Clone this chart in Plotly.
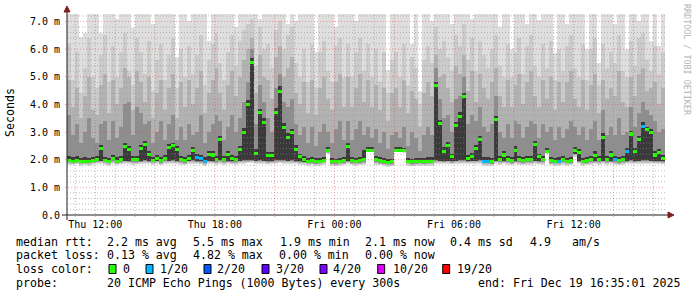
import plotly.graph_objects as go

# ---------------- data ----------------
start_hour = 10 + 35 / 60 + 1 / 3600      # Thu 10:35:01 (hours since Thu 00:00)
step_hours = 0.2                           # 12-minute columns
span_hours = 30.0

median = [1.97, 1.95, 1.98, 1.93, 1.95, 1.94, 1.96, 2.00, 2.40, 1.97,
          1.95, 2.05, 1.95, 2.00, 2.48, 2.36, 2.02, 2.00, 2.40, 2.55,
          2.20, 1.98, 2.05, 1.97, 2.05, 2.45, 2.50, 2.38, 2.00, 1.97,
          2.05, 2.34, 2.07, 2.05, 1.95, 2.20, 2.17, 2.00, 2.72, 2.00,
          2.20, 2.05, 2.00, 2.36, 2.98, 3.99, 5.50, 2.24, 3.70, 3.35,
          2.15, 2.15, 3.71, 4.48, 3.18, 2.81, 2.97, 2.38, 2.10, 2.00,
          1.95, 1.97, 1.93, 1.95, 1.98, 2.33, 1.93, 1.92, 1.95, 1.97,
          2.48, 1.97, 1.95, 1.96, 2.00, 2.35, 2.35, 2.00, 1.98, 1.93,
          1.90, 1.92, 2.35, 2.35, 2.33, 1.95, 1.92, 1.93, 1.94, 1.93,
          1.95, 1.95, 4.67, 3.30, 2.30, 2.50, 2.10, 3.23, 3.57, 4.29,
          2.05, 2.10, 2.40, 2.72, 1.95, 1.95, 1.92, 3.45, 2.00, 2.17,
          2.00, 1.97, 2.35, 2.00, 1.97, 2.00, 2.00, 2.54, 2.10, 2.00,
          2.30, 1.97, 1.95, 1.95, 2.00, 1.95, 1.97, 2.33, 2.25, 1.95,
          1.97, 2.00, 2.15, 2.00, 2.81, 2.00, 2.17, 2.00, 1.97, 2.00,
          2.30, 2.93, 2.30, 2.72, 3.20, 3.08, 2.97, 2.17, 2.25, 2.05]

loss = [0] * 150
for _i in (32, 33, 34, 104, 105, 123, 137, 140, 144):
    loss[_i] = 1

smoke_lo = [1.82, 1.80, 1.83, 1.78, 1.80, 1.79, 1.81, 1.84, 1.85, 1.81,
            1.79, 1.86, 1.80, 1.83, 1.85, 1.84, 1.82, 1.83, 1.84, 1.86,
            1.84, 1.81, 1.85, 1.80, 1.86, 1.85, 1.86, 1.84, 1.82, 1.80,
            1.85, 1.86, 1.84, 1.83, 1.79, 1.85, 1.84, 1.82, 1.86, 1.82,
            1.84, 1.83, 1.82, 1.85, 1.86, 1.87, 1.88, 1.85, 1.86, 1.85,
            1.83, 1.84, 1.86, 1.87, 1.86, 1.85, 1.86, 1.84, 1.82, 1.81,
            1.79, 1.80, 1.77, 1.79, 1.81, 2.20, 1.77, 1.76, 1.79, 1.80,
            1.84, 1.80, 1.79, 1.80, 1.82, 2.28, 2.28, 1.82, 1.80, 1.77,
            1.75, 1.76, 2.28, 2.28, 2.26, 1.78, 1.76, 1.77, 1.78, 1.77,
            1.79, 1.79, 1.86, 1.85, 1.84, 1.85, 1.83, 1.85, 1.86, 1.86,
            1.84, 1.85, 1.85, 1.86, 1.79, 1.79, 1.77, 1.85, 1.82, 1.84,
            1.82, 1.80, 1.84, 1.82, 1.80, 1.82, 1.82, 1.85, 1.83, 1.82,
            2.22, 1.80, 1.79, 1.79, 1.82, 1.79, 1.80, 2.10, 1.84, 1.79,
            1.80, 1.82, 1.84, 1.82, 1.85, 1.82, 1.84, 1.82, 1.80, 1.82,
            1.84, 1.86, 1.84, 1.85, 1.86, 1.86, 1.85, 1.84, 1.84, 1.83]

# upper edges of the smoke bands, outermost (lightest) first
smoke_s1 = [7.5, 7.5, 7.5, 6.45, 6.6, 7.5, 7.5, 7.5, 6.6, 7.5,
            7.5, 7.5, 7.1, 7.5, 7.5, 7.5, 6.75, 7.5, 7.5, 7.5,
            7.5, 6.9, 7.5, 7.5, 7.5, 7.5, 7.5, 5.7, 7.5, 7.5,
            7.0, 7.5, 7.5, 7.5, 7.5, 6.3, 7.5, 7.5, 7.5, 7.5,
            7.5, 7.5, 6.8, 7.5, 7.5, 7.5, 7.5, 7.5, 7.1, 7.5,
            7.5, 7.5, 7.5, 7.5, 7.5, 6.9, 7.5, 7.0, 7.5, 7.5,
            7.5, 7.5, 5.9, 7.5, 7.5, 7.5, 7.5, 6.8, 7.5, 7.5,
            7.5, 7.5, 7.0, 7.5, 7.5, 7.5, 7.5, 7.5, 7.5, 7.5,
            5.25, 7.5, 7.5, 7.5, 7.5, 7.5, 6.2, 7.5, 4.5, 7.5,
            7.5, 7.0, 7.5, 7.5, 7.5, 7.5, 6.9, 7.5, 7.5, 7.5,
            7.5, 7.1, 7.5, 7.5, 7.5, 7.5, 7.5, 7.5, 6.8, 7.5,
            7.5, 6.0, 7.5, 7.5, 7.5, 6.9, 7.5, 7.5, 7.05, 7.5,
            7.5, 7.5, 5.85, 7.5, 7.5, 6.9, 7.5, 7.5, 7.5, 7.5,
            6.0, 7.5, 7.5, 5.5, 7.5, 7.5, 7.5, 6.9, 7.5, 7.5,
            6.0, 7.5, 7.5, 7.0, 7.5, 7.5, 6.3, 7.5, 6.1, 7.5]

smoke_s2 = [6.2, 4.9, 5.9, 4.4, 5.3, 6.4, 5.0, 4.6, 5.8, 6.5,
            4.8, 6.1, 5.0, 5.9, 6.6, 5.2, 4.7, 6.4, 5.9, 5.1,
            6.3, 4.5, 5.6, 6.2, 4.9, 5.8, 6.4, 4.6, 6.0, 5.0,
            6.1, 5.1, 5.8, 6.5, 4.7, 5.6, 6.2, 6.6, 5.5, 4.9,
            5.9, 6.5, 5.4, 6.3, 6.7, 6.9, 7.1, 5.4, 6.8, 6.0,
            6.2, 5.3, 6.7, 7.0, 6.0, 6.5, 6.8, 5.5, 5.0, 6.0,
            4.8, 6.2, 4.6, 5.9, 6.3, 5.2, 4.8, 6.1, 6.4, 5.0,
            6.2, 5.0, 5.9, 6.4, 5.2, 6.2, 5.0, 6.0, 4.8, 5.9,
            4.4, 5.6, 5.9, 5.0, 6.2, 4.7, 5.7, 5.3, 4.0, 5.6,
            6.1, 5.5, 6.8, 6.0, 6.3, 5.7, 5.2, 6.5, 6.1, 6.9,
            5.6, 6.4, 5.2, 6.3, 5.8, 5.3, 6.0, 6.5, 5.4, 5.0,
            6.2, 5.0, 5.9, 6.4, 5.1, 6.1, 6.5, 5.4, 5.0, 6.2,
            5.3, 6.3, 4.9, 6.0, 5.2, 6.1, 6.5, 5.3, 5.0, 6.2,
            4.9, 6.0, 6.4, 4.7, 6.2, 5.3, 5.9, 5.5, 6.5, 5.2,
            5.0, 6.3, 5.4, 6.4, 6.6, 5.6, 5.2, 6.1, 5.1, 5.9]

smoke_s3 = [4.9, 3.9, 4.6, 3.5, 4.3, 5.0, 3.8, 3.6, 4.7, 5.1,
            3.7, 4.9, 4.0, 4.6, 5.3, 5.0, 3.8, 5.2, 4.8, 4.1,
            5.0, 3.5, 4.4, 4.9, 3.8, 4.6, 5.1, 3.5, 4.8, 3.9,
            4.9, 4.0, 4.6, 5.2, 3.7, 4.4, 4.9, 5.3, 4.4, 3.8,
            4.7, 5.2, 4.3, 5.0, 5.6, 6.0, 6.4, 4.4, 5.8, 5.0,
            4.9, 4.2, 5.7, 6.1, 5.0, 5.3, 5.7, 4.4, 4.0, 4.8,
            3.7, 4.9, 3.6, 4.6, 5.0, 4.2, 3.8, 4.8, 5.1, 3.9,
            5.0, 3.9, 4.6, 5.1, 4.1, 4.9, 3.9, 4.7, 3.8, 4.6,
            3.4, 4.4, 4.6, 3.9, 4.9, 3.7, 4.5, 4.2, 3.2, 4.4,
            4.8, 4.3, 5.8, 5.0, 5.1, 4.6, 4.1, 5.4, 5.1, 5.8,
            4.5, 5.2, 4.1, 5.1, 4.6, 4.2, 4.8, 5.3, 4.3, 3.9,
            4.9, 3.9, 4.7, 5.1, 4.0, 4.8, 5.2, 4.3, 3.9, 4.9,
            4.2, 5.0, 3.8, 4.8, 4.1, 4.8, 5.2, 4.2, 3.9, 4.9,
            3.8, 4.7, 5.1, 3.7, 4.9, 4.2, 4.6, 4.3, 5.2, 4.1,
            3.9, 5.0, 4.3, 5.1, 5.3, 4.5, 4.6, 4.8, 4.0, 4.6]

smoke_s4 = [3.6, 2.9, 3.3, 2.6, 3.0, 3.5, 2.8, 2.6, 3.3, 3.4,
            2.7, 3.4, 2.8, 3.2, 4.0, 4.1, 2.9, 3.9, 3.7, 3.3,
            3.4, 2.6, 3.0, 3.4, 2.7, 3.3, 3.6, 2.7, 3.2, 2.7,
            3.3, 2.9, 3.0, 3.6, 2.6, 3.0, 3.3, 3.6, 3.4, 2.7,
            3.2, 3.6, 3.0, 3.5, 4.1, 4.8, 6.0, 3.3, 4.7, 4.1,
            3.5, 3.0, 4.6, 5.1, 4.1, 3.9, 4.2, 3.3, 2.9, 3.2,
            2.6, 3.2, 2.5, 3.0, 3.3, 3.0, 2.6, 3.1, 3.4, 2.7,
            3.4, 2.7, 3.1, 3.4, 2.9, 3.2, 2.8, 3.1, 2.6, 3.0,
            2.4, 2.9, 3.0, 2.8, 3.2, 2.5, 3.0, 2.8, 2.3, 2.9,
            3.2, 2.9, 5.3, 4.2, 3.5, 3.6, 3.0, 4.2, 4.3, 5.0,
            3.3, 3.6, 3.4, 3.9, 3.2, 3.0, 3.3, 4.3, 3.0, 2.8,
            3.3, 2.8, 3.4, 3.3, 2.8, 3.2, 3.4, 3.3, 2.8, 3.3,
            3.0, 3.2, 2.7, 3.2, 2.8, 3.1, 3.4, 3.2, 2.9, 3.2,
            2.7, 3.1, 3.4, 2.7, 3.8, 2.9, 3.2, 2.9, 3.5, 2.9,
            3.0, 3.9, 3.2, 3.7, 4.1, 3.8, 3.6, 3.4, 3.0, 3.1]

smoke_s5 = [2.12, 2.08, 2.12, 2.05, 2.08, 2.06, 2.10, 2.14, 2.52, 2.10,
            2.07, 2.18, 2.08, 2.12, 2.62, 2.50, 2.15, 2.12, 2.55, 2.68,
            2.33, 2.10, 2.18, 2.09, 2.18, 2.58, 2.62, 2.50, 2.12, 2.09,
            2.17, 2.47, 2.20, 2.18, 2.08, 2.33, 2.30, 2.12, 2.85, 2.12,
            2.33, 2.18, 2.12, 2.50, 3.15, 4.15, 5.68, 2.38, 3.85, 3.50,
            2.28, 2.28, 3.86, 4.65, 3.33, 2.95, 3.10, 2.52, 2.22, 2.12,
            2.07, 2.10, 2.05, 2.07, 2.10, 2.45, 2.05, 2.04, 2.07, 2.10,
            2.62, 2.10, 2.07, 2.08, 2.35, 2.45, 2.45, 2.12, 2.10, 2.05,
            2.02, 2.04, 2.45, 2.45, 2.44, 2.07, 2.04, 2.05, 2.06, 2.05,
            2.08, 2.10, 4.82, 3.45, 2.45, 2.65, 2.22, 3.38, 3.72, 4.42,
            2.18, 2.25, 2.55, 2.85, 2.08, 2.08, 2.05, 3.58, 2.12, 2.30,
            2.12, 2.10, 2.48, 2.12, 2.09, 2.12, 2.13, 2.68, 2.22, 2.12,
            2.42, 2.09, 2.07, 2.08, 2.12, 2.07, 2.10, 2.45, 2.38, 2.07,
            2.09, 2.12, 2.30, 2.12, 2.95, 2.12, 2.30, 2.12, 2.09, 2.12,
            2.42, 3.05, 2.42, 2.85, 3.35, 3.20, 3.10, 2.30, 2.38, 2.17]

y_tick_vals = [0, 1, 2, 3, 4, 5, 6, 7]
y_tick_text = ["0.0", "1.0 m", "2.0 m", "3.0 m", "4.0 m", "5.0 m", "6.0 m", "7.0 m"]
x_tick_vals = [12, 18, 24, 30, 36]
x_tick_text = ["Thu 12:00", "Thu 18:00", "Fri 00:00", "Fri 06:00", "Fri 12:00"]

loss_levels = [0, 1, 2, 3, 4, 10, 19]
loss_labels = ["0", "1/20", "2/20", "3/20", "4/20", "10/20", "19/20"]
loss_colors = ["#26ff00", "#00b8ff", "#0059ff", "#5e00ff", "#7e00ff", "#dd00ff", "#ff0000"]

# ---------------- layout geometry ----------------
W, H = 697, 297
PL, PR, PT, PB = 67, 665, 14, 215
Y_MAX = 7.27
MONO = "DejaVu Sans Mono"

def px(xp):
    return (xp - PL) / (PR - PL)

def py(yp):
    return (PB - yp) / (PB - PT)

n = len(median)
x = [start_hour + (i + 0.5) * step_hours for i in range(n)]

fig = go.Figure()

band_tops = [smoke_s1, smoke_s2, smoke_s3, smoke_s4, smoke_s5]
band_colors = ["#dedede", "#cbcbcb", "#b2b2b2", "#8e8e8e", "#3a3a3a"]
band_off = [0.0, 0.03, 0.06, 0.09, 0.12]
for tops, col, off in zip(band_tops, band_colors, band_off):
    base = [min(lo + off, m - 0.03) for lo, m in zip(smoke_lo, median)]
    fig.add_trace(go.Bar(x=x, y=[t - b for t, b in zip(tops, base)], base=base,
                         width=step_hours, marker=dict(color=col, line=dict(width=0)),
                         hoverinfo="skip", showlegend=False))

def loss_color(l):
    c = loss_colors[0]
    for lv, cc in zip(loss_levels, loss_colors):
        if l >= lv:
            c = cc
    return c

half = 0.055
fig.add_trace(go.Bar(x=x, y=[2 * half] * n, base=[m - half for m in median],
                     width=step_hours,
                     marker=dict(color=[loss_color(l) for l in loss], line=dict(width=0)),
                     hoverinfo="skip", showlegend=False))

shapes = []
# grid on top of the smoke (rrdtool style)
GRID = "rgba(143,143,143,0.6)"
MGRID = "rgba(222,79,79,0.55)"
h = int(start_hour) + 1
while h < start_hour + span_hours:
    major = (h % 3 == 0)
    shapes.append(dict(type="line", xref="x", yref="paper", x0=h, x1=h,
                       y0=py(PB + 2), y1=1, layer="above",
                       line=dict(color=MGRID if major else GRID, width=1, dash="1px,2px")))
    h += 1
for k in range(1, 37):
    v = k * 0.2
    major = (k % 5 == 0)
    shapes.append(dict(type="line", xref="paper", yref="y", x0=px(PL - 2 if major else PL), x1=1,
                       y0=v, y1=v, layer="above",
                       line=dict(color=MGRID if major else GRID, width=1, dash="1px,2px")))

AXIS = "#1f1f1f"
ARROW = "#801f1f"
shapes.append(dict(type="line", xref="paper", yref="paper", x0=px(62), x1=px(669),
                   y0=0, y1=0, layer="above", line=dict(color=AXIS, width=1)))
shapes.append(dict(type="line", xref="paper", yref="paper", x0=0, x1=0,
                   y0=py(220), y1=py(11), layer="above", line=dict(color=AXIS, width=1)))
shapes.append(dict(type="path", xref="paper", yref="paper", layer="above",
                   path=f"M {px(668)} {py(212)} L {px(674)} {py(215)} L {px(668)} {py(218)} Z",
                   fillcolor=ARROW, line=dict(color=ARROW, width=1)))
shapes.append(dict(type="path", xref="paper", yref="paper", layer="above",
                   path=f"M {px(64)} {py(12)} L {px(67)} {py(6)} L {px(70)} {py(12)} Z",
                   fillcolor=ARROW, line=dict(color=ARROW, width=1)))

annotations = []

def txt(s, xp, yp, size=11.6, color="#000000", anchor="left", angle=0):
    annotations.append(dict(text=s, x=px(xp), y=py(yp), xref="paper", yref="paper",
                            xanchor=anchor, yanchor="middle", showarrow=False,
                            textangle=angle, borderpad=0, borderwidth=0,
                            font=dict(family=MONO, size=size, color=color)))

txt("Seconds", 10, 113, angle=-90, anchor="center")
txt("RRDTOOL / TOBI OETIKER", 687, 60, size=8.4, color="#b4b4b4", angle=90, anchor="center")

row1 = 241.5
txt("median rtt:", 16, row1)
for s, xp in [("2.2 ms avg", 107.3), ("5.5 ms max", 193.3), ("1.9 ms min", 280),
              ("2.1 ms now", 365), ("0.4 ms sd", 450), ("4.9", 530), ("am/s", 571.7)]:
    txt(s, xp, row1)
row2 = 255
txt("packet loss:", 16, row2)
for s, xp in [("0.13 % avg", 107.3), ("4.82 % max", 193.3), ("0.00 % min", 279.3),
              ("0.00 % now", 365)]:
    txt(s, xp, row2)
row3 = 269
txt("loss color:", 16, row3)
box_x = [109, 146, 204, 262, 320, 377.7, 442.7]
lab_x = [123, 160, 217.3, 276, 333, 392.7, 456.7]
for lbl, col, bx, lx in zip(loss_labels, loss_colors, box_x, lab_x):
    shapes.append(dict(type="rect", xref="paper", yref="paper",
                       x0=px(bx), x1=px(bx + 7), y0=py(row3 + 4.5), y1=py(row3 - 4.5),
                       fillcolor=col, line=dict(color="#000000", width=1)))
    txt(lbl, lx, row3)
row4 = 283
txt("probe:", 16, row4)
txt("20 ICMP Echo Pings (1000 Bytes) every 300s", 107.3, row4)
txt("end: Fri Dec 19 16:35:01 2025", 478.3, row4)

fig.update_layout(
    width=W, height=H, autosize=False,
    margin=dict(l=PL, r=W - PR, t=PT, b=H - PB, pad=0),
    paper_bgcolor="#ffffff", plot_bgcolor="#ffffff",
    barmode="overlay", bargap=0, showlegend=False,
    shapes=shapes, annotations=annotations,
    xaxis=dict(range=[start_hour, start_hour + span_hours], showgrid=False, zeroline=False,
               showline=False, tickmode="array", tickvals=x_tick_vals, ticktext=x_tick_text,
               ticks="", ticklabelstandoff=2,
               tickfont=dict(family=MONO, size=10, color="#000000"), fixedrange=True),
    yaxis=dict(range=[0, Y_MAX], showgrid=False, zeroline=False, showline=False,
               tickmode="array", tickvals=y_tick_vals, ticktext=y_tick_text,
               ticks="", ticklabelstandoff=6,
               tickfont=dict(family=MONO, size=10, color="#000000"), fixedrange=True),
)

fig.write_html("out.html")
